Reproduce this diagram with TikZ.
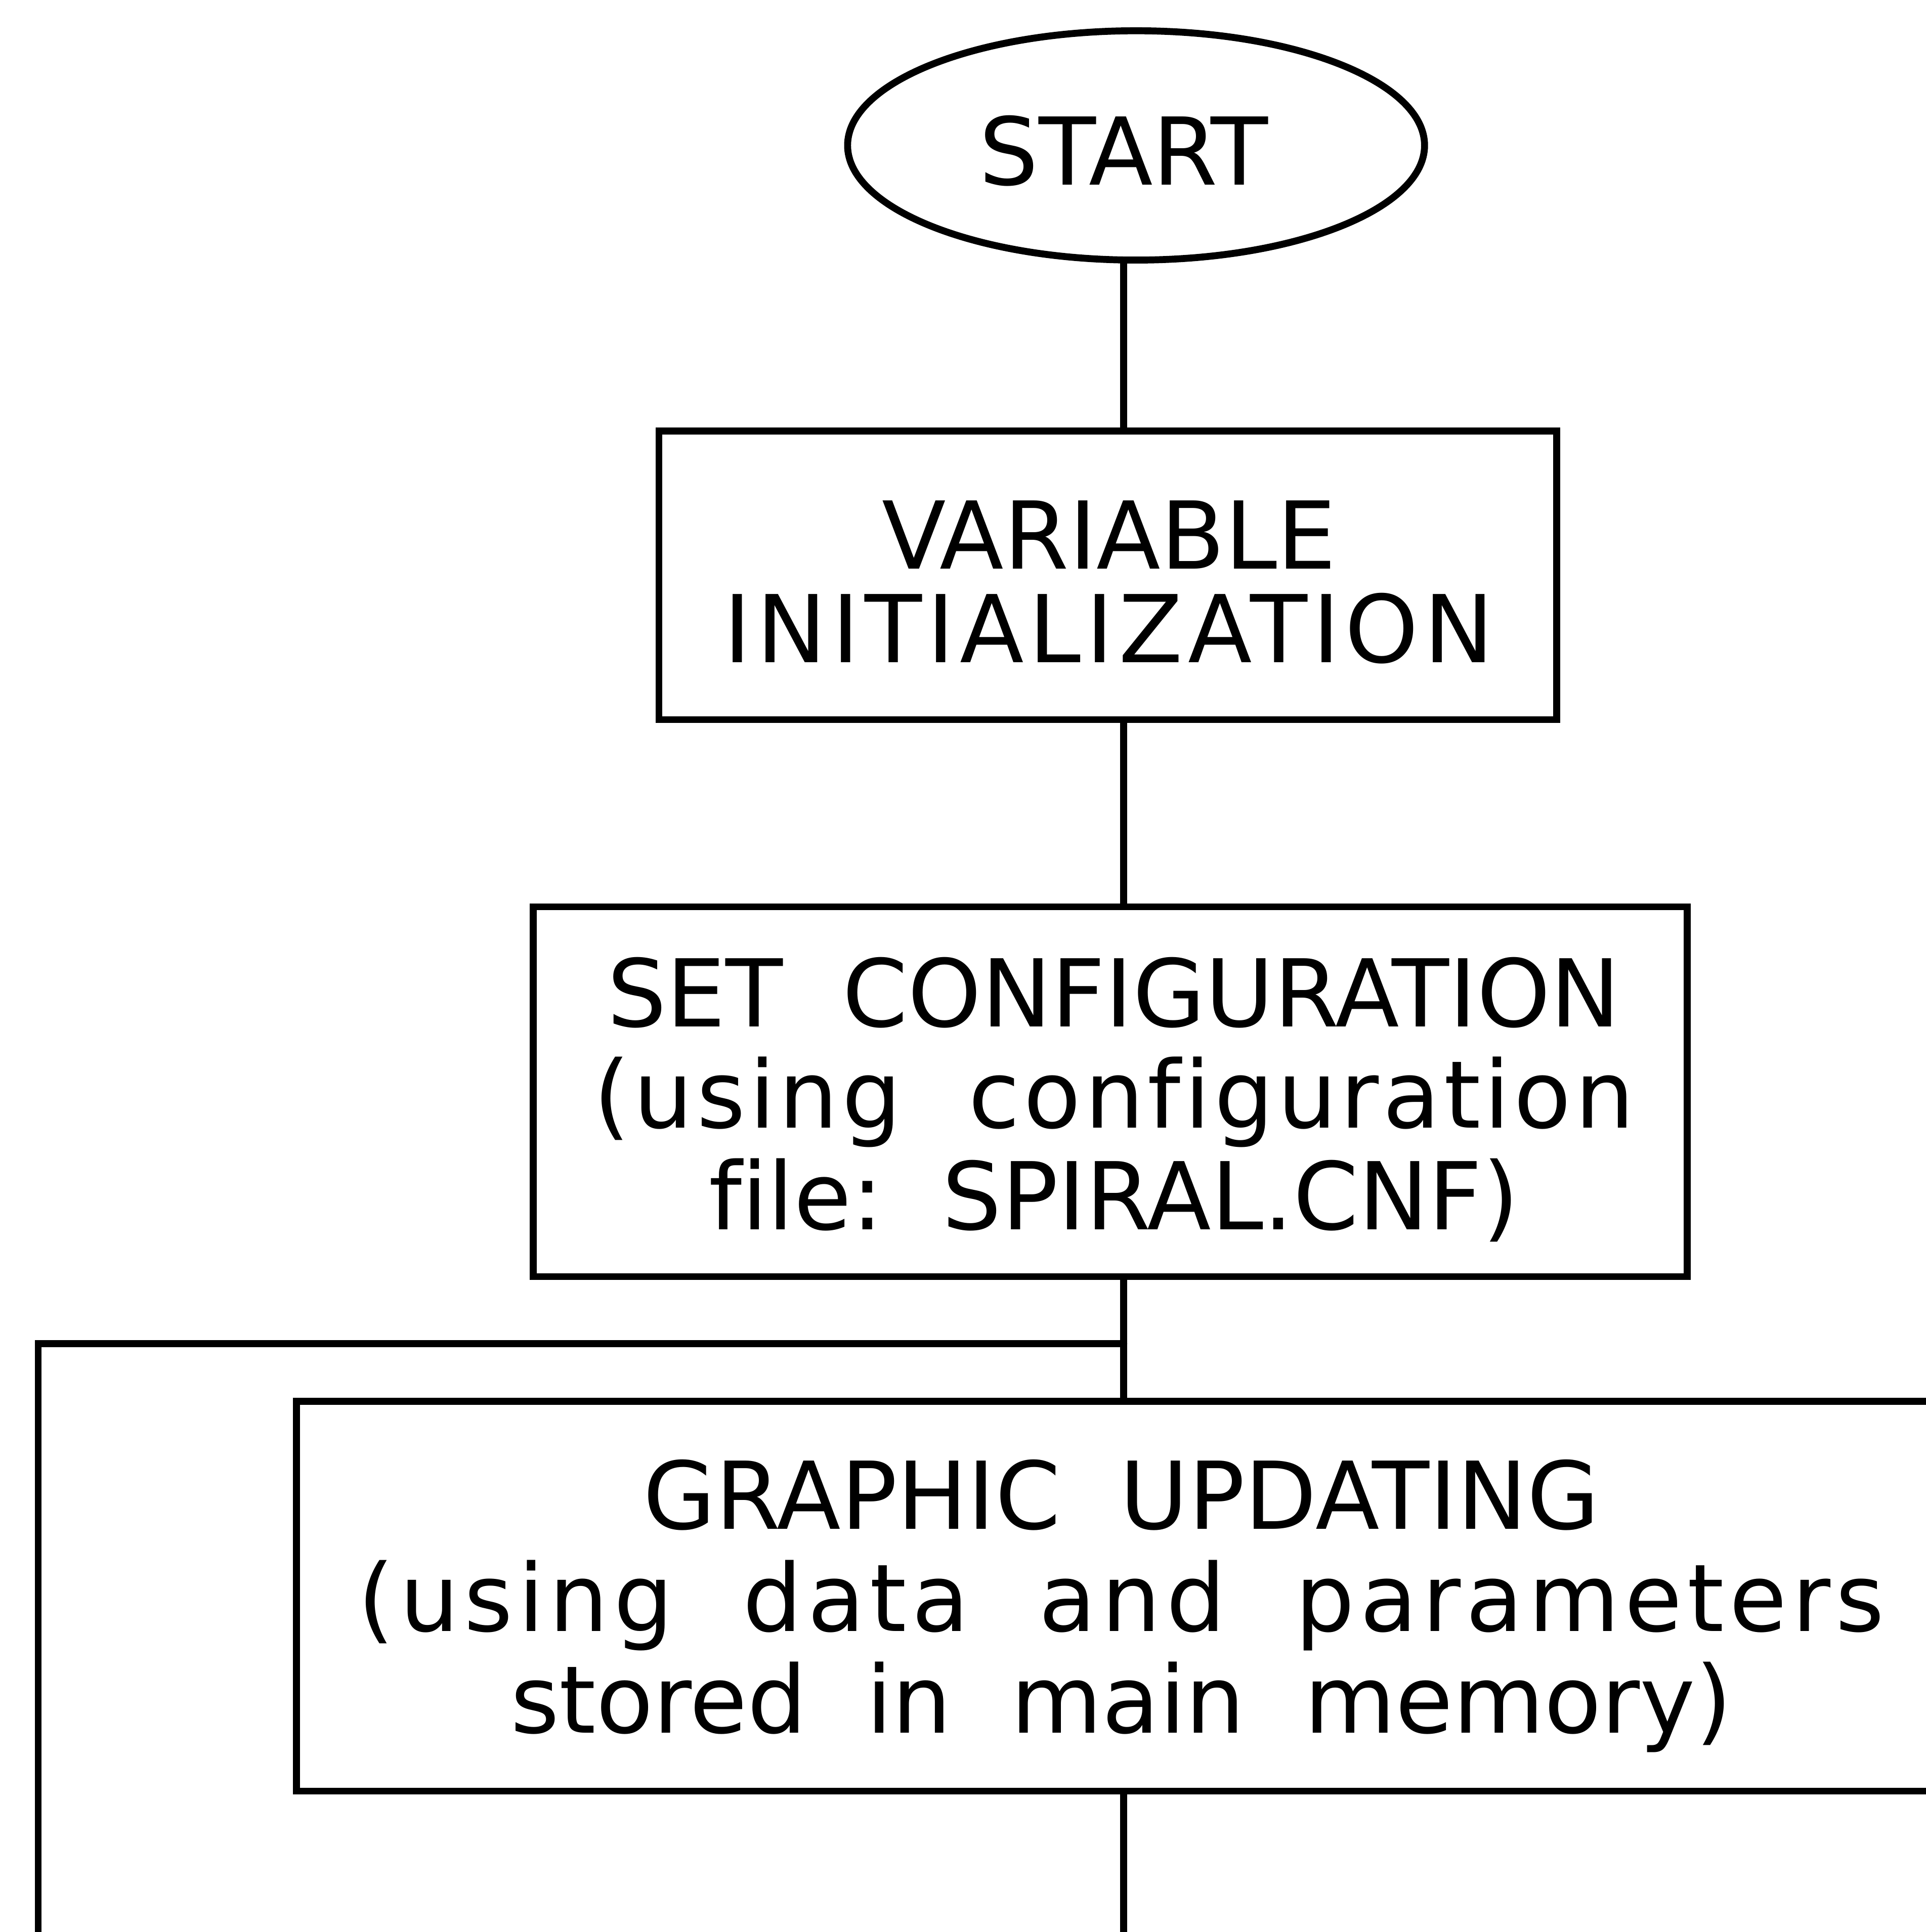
\documentclass[tikz,border=0pt]{standalone}
\usepackage{fontspec}
\setmainfont[Ligatures=CommonOff, WordSpace=2]{DejaVu Sans}
% lower-case lines of the plotter lettering run a little wider
\newfontfamily\spacedfont[Ligatures=CommonOff, WordSpace=2, LetterSpace=5.5]{DejaVu Sans}
\newfontfamily\lightfont[Ligatures=CommonOff, WordSpace=2, LetterSpace=4]{DejaVu Sans}
\usetikzlibrary{shapes.geometric}
\frenchspacing

\tikzset{
  flowline/.style={line width=1.6pt, line cap=round, line join=miter},
  terminal/.style={ellipse, draw, line width=1.6pt, inner sep=0pt,
                   minimum width=4.68cm, minimum height=1.86cm},
  stepbox/.style={rectangle, draw, line width=1.6pt, inner sep=0pt},
  caption/.style={inner sep=0pt, align=center},
  tightfont/.style={font=\frenchspacing\fontsize{21.6pt}{21.6pt}\selectfont},
  loosefont/.style={font=\frenchspacing\fontsize{21.6pt}{23.4pt}\selectfont},
  widerfont/.style={font=\frenchspacing\fontsize{21.6pt}{23.5pt}\selectfont},
}

\begin{document}
\begin{tikzpicture}[x=0.01cm, y=-0.01cm]
  % page frame
  \path[use as bounding box] (0,0) rectangle (1563,1568);
  \fill[white] (0,0) rectangle (1563,1568);
  \clip (0,0) rectangle (1563,1568);

  % shapes of the flow chart
  \node[terminal] (start) at (922,118) {};
  \node[stepbox, minimum width=7.28cm, minimum height=2.34cm] (init) at (899,467) {};
  \node[stepbox, minimum width=9.36cm, minimum height=3.00cm] (config) at (901,886) {};
  \node[stepbox, minimum width=13.39cm, minimum height=3.16cm] (update) at (910.5,1295.5) {};

  % lettering
  \node[caption, tightfont] (start-t) at (912,122.3) {START};
  \node[caption, tightfont] (init-t) at (900,472.3)
       {VARIABLE\\{\spacedfont INITIALIZATION}};
  \node[caption, loosefont] (config-t) at (904,892.3)
       {SET CONFIGURATION\\{\lightfont (using configuration}\\file: SPIRAL.CNF)};
  \node[caption, widerfont] (update-t) at (910,1303.5)
       {GRAPHIC UPDATING\\{\spacedfont (using data and parameters}\\stored in main memory)};

  % main spine and loop-back line
  \coordinate (spine) at (912,0);
  \coordinate (loopcorner) at (31,1090.5);
  \coordinate (loopend) at (31,1580);
  \coordinate (spineend) at (912,1580);

  \draw[flowline] (spine |- start.south) -- (spine |- init.north);
  \draw[flowline] (spine |- init.south) -- (spine |- config.north);
  \draw[flowline] (spine |- config.south) -- (spine |- update.north);
  \draw[flowline] (spine |- loopcorner) -- (loopcorner) -- (loopend);
  \draw[flowline] (spine |- update.south) -- (spineend);
\end{tikzpicture}
\end{document}
